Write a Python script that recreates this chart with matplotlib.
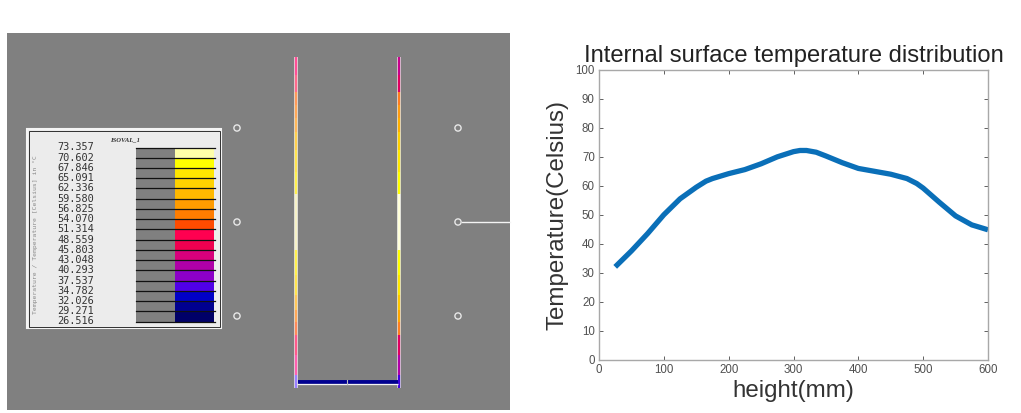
import matplotlib
matplotlib.use('Agg')
import matplotlib.pyplot as plt

# left panel: legend of the contour plot
legend_levels = ['73.357', '70.602', '67.846', '65.091', '62.336', '59.580', '56.825', '54.070', '51.314',
                 '48.559', '45.803', '43.048', '40.293', '37.537', '34.782', '32.026', '29.271', '26.516']
legend_colors = ['#ffffaa', '#ffff00', '#ffe600', '#ffd200', '#ffb900', '#ff9c00', '#ff7d00', '#ff4b00', '#ff0050',
                 '#f00050', '#d8007c', '#b000a8', '#8c00c8', '#5000e8', '#0000c8', '#000090', '#000068']

# wall colours, top to bottom, with the pixel row each band ends on
wall_ends = [75, 92, 105, 118, 132, 150, 172, 194, 250, 275, 295, 310, 322, 335, 355, 375, 388]
left_colors = ['#ff4f96', '#ff6a8c', '#ff9a5a', '#ffa858', '#ffb85a', '#ffd04f', '#ffe450', '#fff050', '#f6f2c8',
               '#fff050', '#ffe450', '#ffc85a', '#ffa858', '#ff8a5a', '#ff5a8c', '#ff60b0', '#9a80ff']
right_colors = ['#c8008c', '#e00060', '#ff7d20', '#ff9c10', '#ffb000', '#ffd000', '#ffe800', '#ffff00', '#ffffd8',
                '#ffff00', '#ffe800', '#ffc800', '#ffa800', '#ff8020', '#e00060', '#b000a8', '#4000e0']

# sensor circles on the left panel
circle_x = [237, 237, 237, 458, 458, 458]
circle_y = [128, 222, 316, 128, 222, 316]

# right panel: temperature curve
height_mm = [25, 50, 75, 100, 125, 150, 165, 175, 200, 225, 250, 275, 300, 310, 320, 335, 350, 375, 400, 425, 450,
             475, 490, 500, 525, 550, 575, 600]
temperature = [32, 37.5, 43.5, 50, 55.5, 59.5, 61.6, 62.5, 64.2, 65.6, 67.6, 70, 71.8, 72.2, 72.2, 71.6, 70.3, 68,
               66, 65, 64, 62.5, 60.8, 59.2, 54.3, 49.6, 46.5, 44.8]

W, H = 1021, 413
fig = plt.figure(figsize=(W / 100, H / 100), dpi=100)

# whole figure axes, in pixels, for the screenshot on the left
bg = fig.add_axes([0, 0, 1, 1])
bg.set_xlim(0, W)
bg.set_ylim(H, 0)
bg.axis('off')
bg.add_patch(plt.Rectangle((7, 33), 503, 377, color='#808080', lw=0))

# legend box
bg.add_patch(plt.Rectangle((27, 129), 194, 199, fc='#ececec', ec='#f4f4f4', lw=1.5))
bg.add_patch(plt.Rectangle((28.5, 130.5), 191, 196, fc='none', ec='#303030', lw=0.7))
bg.text(125, 139.5, 'ISOVAL_1', family='Liberation Serif', style='italic', weight='bold', fontsize=4.8,
        ha='center', va='center', color='#333333')
bg.text(35, 235, 'Temperature / Temperature [Celsius] in °C', family='DejaVu Sans Mono', fontsize=4.6,
        rotation=90, ha='center', va='center', color='#8a8a8a')

step = (321.5 - 147.5) / len(legend_colors)
for i, lab in enumerate(legend_levels):
    y = 147.5 + i * step
    bg.text(57, y, lab, family='DejaVu Sans Mono', fontsize=7.4, ha='left', va='center', color='#333333')
for i, c in enumerate(legend_colors):
    y = 147.5 + i * step
    bg.add_patch(plt.Rectangle((136, y), 39, step, color='#808080', lw=0))
    bg.add_patch(plt.Rectangle((175, y), 39, step, color=c, lw=0))
    bg.plot([136, 215], [y, y], color='#111111', lw=0.9)
bg.plot([136, 215], [321.5, 321.5], color='#111111', lw=0.9)

# tube walls
top = 57
for x, cols in [(296, left_colors), (399, right_colors)]:
    bg.plot([x, x], [top, 388], color='#f0f0f0', lw=2.6, solid_capstyle='butt')
    start = top
    for end, c in zip(wall_ends, cols):
        bg.plot([x, x], [start, end], color=c, lw=1.7, solid_capstyle='butt')
        start = end

# tube floor
bg.plot([298, 398], [381.8, 381.8], color='#000090', lw=2.8, solid_capstyle='butt')
bg.plot([297, 398], [384.4, 384.4], color='#f4f4f4', lw=0.9, solid_capstyle='butt')
bg.plot([347, 347], [380, 384], color='#c0c0c0', lw=0.8)

# sensors and the line leaving the right hand one
bg.scatter(circle_x, circle_y, s=20, facecolor='none', edgecolor='#e8e8e8', lw=1)
bg.plot([462, 510], [222, 222], color='#f4f4f4', lw=1)

# temperature plot
ax = fig.add_axes([599 / W, 1 - 359.5 / H, 389 / W, 289.5 / H])
ax.plot(height_mm, temperature, color='#0a6fb8', lw=3.8, solid_capstyle='butt', solid_joinstyle='round')
ax.set_xlim(0, 600)
ax.set_ylim(0, 100)
ax.set_xticks(range(0, 601, 100))
ax.set_yticks(range(0, 101, 10))
ax.tick_params(direction='in', length=3, width=0.7, color='#606060', labelsize=8.3, labelcolor='#505050', pad=3,
               top=True, right=True)
for lab in ax.get_xticklabels() + ax.get_yticklabels():
    lab.set_family('Liberation Sans')
for s in ax.spines.values():
    s.set_color('#a8a8a8')
    s.set_linewidth(1)
ax.set_title('Internal surface temperature distribution', family='Liberation Sans', fontsize=17.1,
             color='#222222', pad=6)
ax.set_xlabel('height(mm)', family='Liberation Sans', fontsize=17.4, color='#333333', labelpad=3)
ax.set_ylabel('Temperature(Celsius)', family='Liberation Sans', fontsize=17.4, color='#333333', labelpad=5)

fig.savefig('out.png', dpi=100)
